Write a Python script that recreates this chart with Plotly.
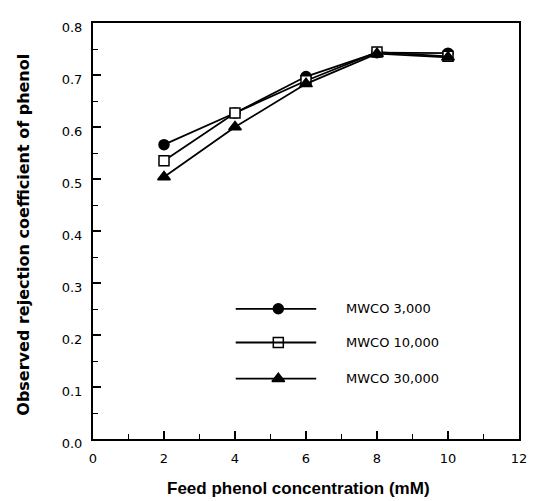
import plotly.graph_objects as go

# ---- data ----
feed_conc = [2, 4, 6, 8, 10]
mwco_3000 = [0.566, 0.627, 0.697, 0.743, 0.742]
mwco_10000 = [0.535, 0.627, 0.689, 0.744, 0.736]
mwco_30000 = [0.504, 0.600, 0.683, 0.741, 0.734]
series_names = ["MWCO 3,000", "MWCO 10,000", "MWCO 30,000"]
x_ticks = [0, 2, 4, 6, 8, 10, 12]
y_ticks = [0.0, 0.1, 0.2, 0.3, 0.4, 0.5, 0.6, 0.7, 0.8]

series = [mwco_3000, mwco_10000, mwco_30000]
symbols = ["circle", "square", "triangle-up"]
fills = ["black", "white", "black"]
sizes = [10, 10, 11]

fig = go.Figure()
for vals, sym, fc, sz, name in zip(series, symbols, fills, sizes, series_names):
    fig.add_trace(go.Scatter(
        x=feed_conc, y=vals, mode="lines+markers", name=name,
        line=dict(color="black", width=1.8),
        marker=dict(symbol=sym, size=sz, color=fc, line=dict(color="black", width=1.5)),
        showlegend=False, cliponaxis=False,
    ))

# ---- manual legend (layout positions, overlay axes spanning the plot area) ----
leg_y = [0.313, 0.232, 0.145]
leg_x0, leg_x1, leg_xm, leg_xt = 0.335, 0.524, 0.435, 0.590
for ly, sym, fc, sz, name in zip(leg_y, symbols, fills, sizes, series_names):
    fig.add_shape(type="line", xref="paper", yref="paper", x0=leg_x0, x1=leg_x1,
                  y0=ly, y1=ly, line=dict(color="black", width=1.8))
    fig.add_trace(go.Scatter(
        x=[leg_xm], y=[ly], xaxis="x2", yaxis="y2", mode="markers",
        marker=dict(symbol=sym, size=sz, color=fc, line=dict(color="black", width=1.5)),
        showlegend=False, hoverinfo="skip"))
    fig.add_annotation(x=leg_xt, y=ly, xref="paper", yref="paper", text=name,
                       showarrow=False, xanchor="left", yanchor="middle",
                       font=dict(family="DejaVu Sans", size=13, color="black"))

tick_font = dict(family="DejaVu Sans", size=13, color="black")
fig.update_layout(
    width=528, height=493,
    margin=dict(l=85, r=17, t=15, b=62, autoexpand=False),
    paper_bgcolor="white", plot_bgcolor="white",
    xaxis=dict(range=[0, 12], tickvals=x_ticks, ticktext=[str(v) for v in x_ticks],
               ticks="inside", ticklen=8, tickwidth=1.5, tickcolor="black",
               minor=dict(dtick=1, ticks="inside", ticklen=5, tickcolor="black", tickwidth=1.2),
               showline=True, linecolor="black", linewidth=2, mirror=True,
               ticklabelstandoff=6, ticklabeloverflow="allow", automargin=False,
               showgrid=False, zeroline=False, tickfont=tick_font),
    yaxis=dict(range=[0, 0.8], tickvals=y_ticks, ticktext=[f"{v:.1f}" for v in y_ticks],
               ticks="inside", ticklen=8, tickwidth=1.5, tickcolor="black",
               minor=dict(dtick=0.05, ticks="inside", ticklen=5, tickcolor="black", tickwidth=1.2),
               showline=True, linecolor="black", linewidth=2, mirror=True,
               ticklabelstandoff=6, ticklabelshift=4, ticklabeloverflow="allow", automargin=False,
               showgrid=False, zeroline=False, tickfont=tick_font),
    xaxis2=dict(range=[0, 1], overlaying="x", visible=False),
    yaxis2=dict(range=[0, 1], overlaying="y", visible=False),
    showlegend=False,
)

fig.add_annotation(x=0.483, y=-0.118, xref="paper", yref="paper",
                   text="<b>Feed phenol concentration (mM)</b>", showarrow=False,
                   xanchor="center", yanchor="middle",
                   font=dict(family="Liberation Sans", size=17, color="black"))
fig.add_annotation(x=-0.163, y=0.49, xref="paper", yref="paper",
                   text="<b>Observed rejection coefficient of phenol</b>", showarrow=False,
                   textangle=-90, xanchor="center", yanchor="middle",
                   font=dict(family="DejaVu Sans", size=16, color="black"))

fig.write_html("out.html")
